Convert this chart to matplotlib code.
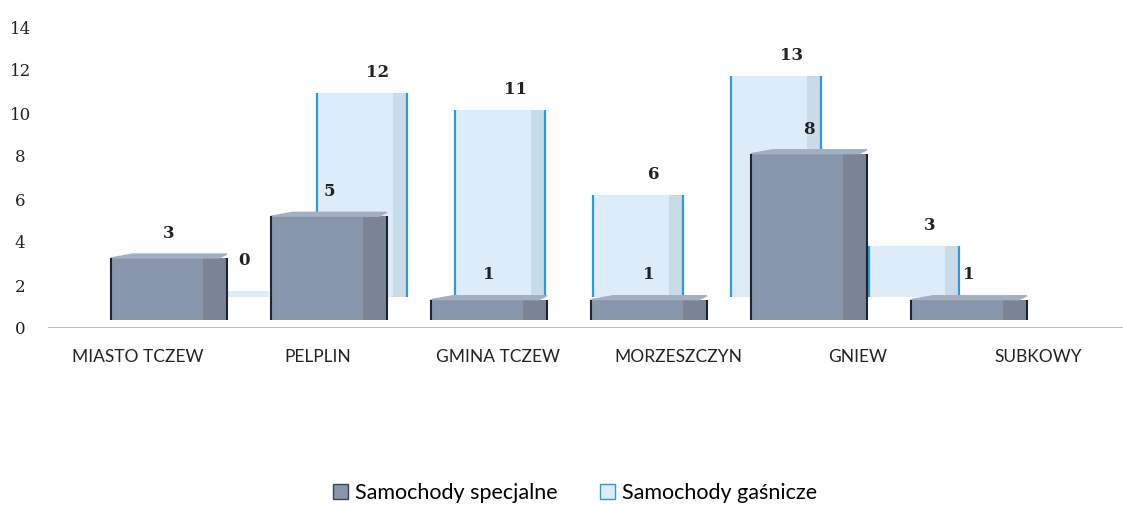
import matplotlib.pyplot as plt
from matplotlib.patches import Patch, Polygon

plt.rcParams['font.family'] = ['DejaVu Serif']

categories = ['MIASTO TCZEW', 'PELPLIN', 'GMINA TCZEW', 'MORZESZCZYN', 'GNIEW', 'SUBKOWY']
specjalne = [3, 5, 1, 1, 8, 1]
gasnicze = [0, 12, 11, 6, 13, 3]
yticks = [0, 2, 4, 6, 8, 10, 12, 14]

# colours
front_face = '#8796ab'
front_side = '#7a8494'
front_top = '#a3afbf'
back_face = '#dcedf9'
back_edge = '#2f9ad6'
axis_col = '#b9a3aa'

fig = plt.figure(figsize=(11.23, 5.05), dpi=100)
# x axis in pixel-like units (perspective layout), y axis in values
ax = fig.add_axes([48 / 1123, 177 / 505, 1 - 48 / 1123, 301 / 505])
ax.set_xlim(48, 1123)
ax.set_ylim(0, 14)

n = len(categories)
label_x = [138 + 180 * i for i in range(n)]
front_x = [169 + 160 * i for i in range(n)]
back_x = [224 + 138 * i for i in range(n)]
front_w, back_w = 116, 90
front_b, front_k = 0.35, 0.97
back_b, back_k = 1.45, 0.79
slab = 0.28

num_font = dict(fontsize=12, fontweight='bold', color='#222222')
sans = ['Lato', 'DejaVu Sans']

# back row: Samochody gaśnicze
for i, v in enumerate(gasnicze):
    h = max(v * back_k, slab)
    cx = back_x[i]
    ax.bar(cx, h, width=back_w, bottom=back_b, color=back_face, edgecolor='none', zorder=1)
    x0, x1 = cx - back_w / 2, cx + back_w / 2
    if v > 0:
        ax.vlines([x0, x1], back_b, back_b + h, color=back_edge, lw=1.6, zorder=1.1)
        ax.bar(x1 - 7, h, width=14, bottom=back_b, color='#c9dbe7', edgecolor='none', zorder=1.05)
        ax.text(cx + 16, back_b + h + 0.55, str(v), ha='center', va='bottom', **num_font)
    else:
        ax.text(cx + 20, back_b + h + 1.0, str(v), ha='center', va='bottom', **num_font)

# front row: Samochody specjalne
for i, v in enumerate(specjalne):
    h = v * front_k
    cx = front_x[i]
    x0, x1 = cx - front_w / 2, cx + front_w / 2
    ax.bar(cx, h, width=front_w, bottom=front_b, color=front_face, edgecolor='none', zorder=2)
    ax.bar(x1 - 12, h, width=24, bottom=front_b, color=front_side, edgecolor='none', zorder=2.1)
    top = front_b + h
    ax.add_patch(Polygon([(x0, top), (x0 + 22, top + 0.18), (x1, top + 0.18), (x1 - 8, top)],
                         closed=True, color=front_top, zorder=2.2))
    ax.vlines([x0, x1], front_b, top, color='#1e2430', lw=1.5, zorder=2.3)
    ax.text(cx, top + 0.75, str(v), ha='center', va='bottom', **num_font)

# axis line
ax.axhline(0, color=axis_col, lw=1.8, zorder=0.5)
for s in ax.spines.values():
    s.set_visible(False)

ax.set_yticks(yticks)
ax.set_yticklabels([str(t) for t in yticks], fontsize=12, color='#222222', ha='center')
ax.tick_params(axis='y', length=0, pad=20)

ax.set_xticks(label_x)
ax.set_xticklabels(categories, family=sans, fontsize=12.5, color='#222222')
ax.tick_params(axis='x', length=0, pad=15)

handles = [Patch(facecolor=front_face, edgecolor='#3a4458', label='Samochody specjalne'),
           Patch(facecolor=back_face, edgecolor=back_edge, label='Samochody gaśnicze')]
fig.legend(handles=handles, loc='center', bbox_to_anchor=(575 / 1123, 1 - 493 / 505), ncol=2,
           frameon=False, prop={'family': sans, 'size': 15.5},
           handlelength=0.7, handleheight=0.7, handletextpad=0.3, columnspacing=2.0)

fig.savefig('out.png', dpi=100)
